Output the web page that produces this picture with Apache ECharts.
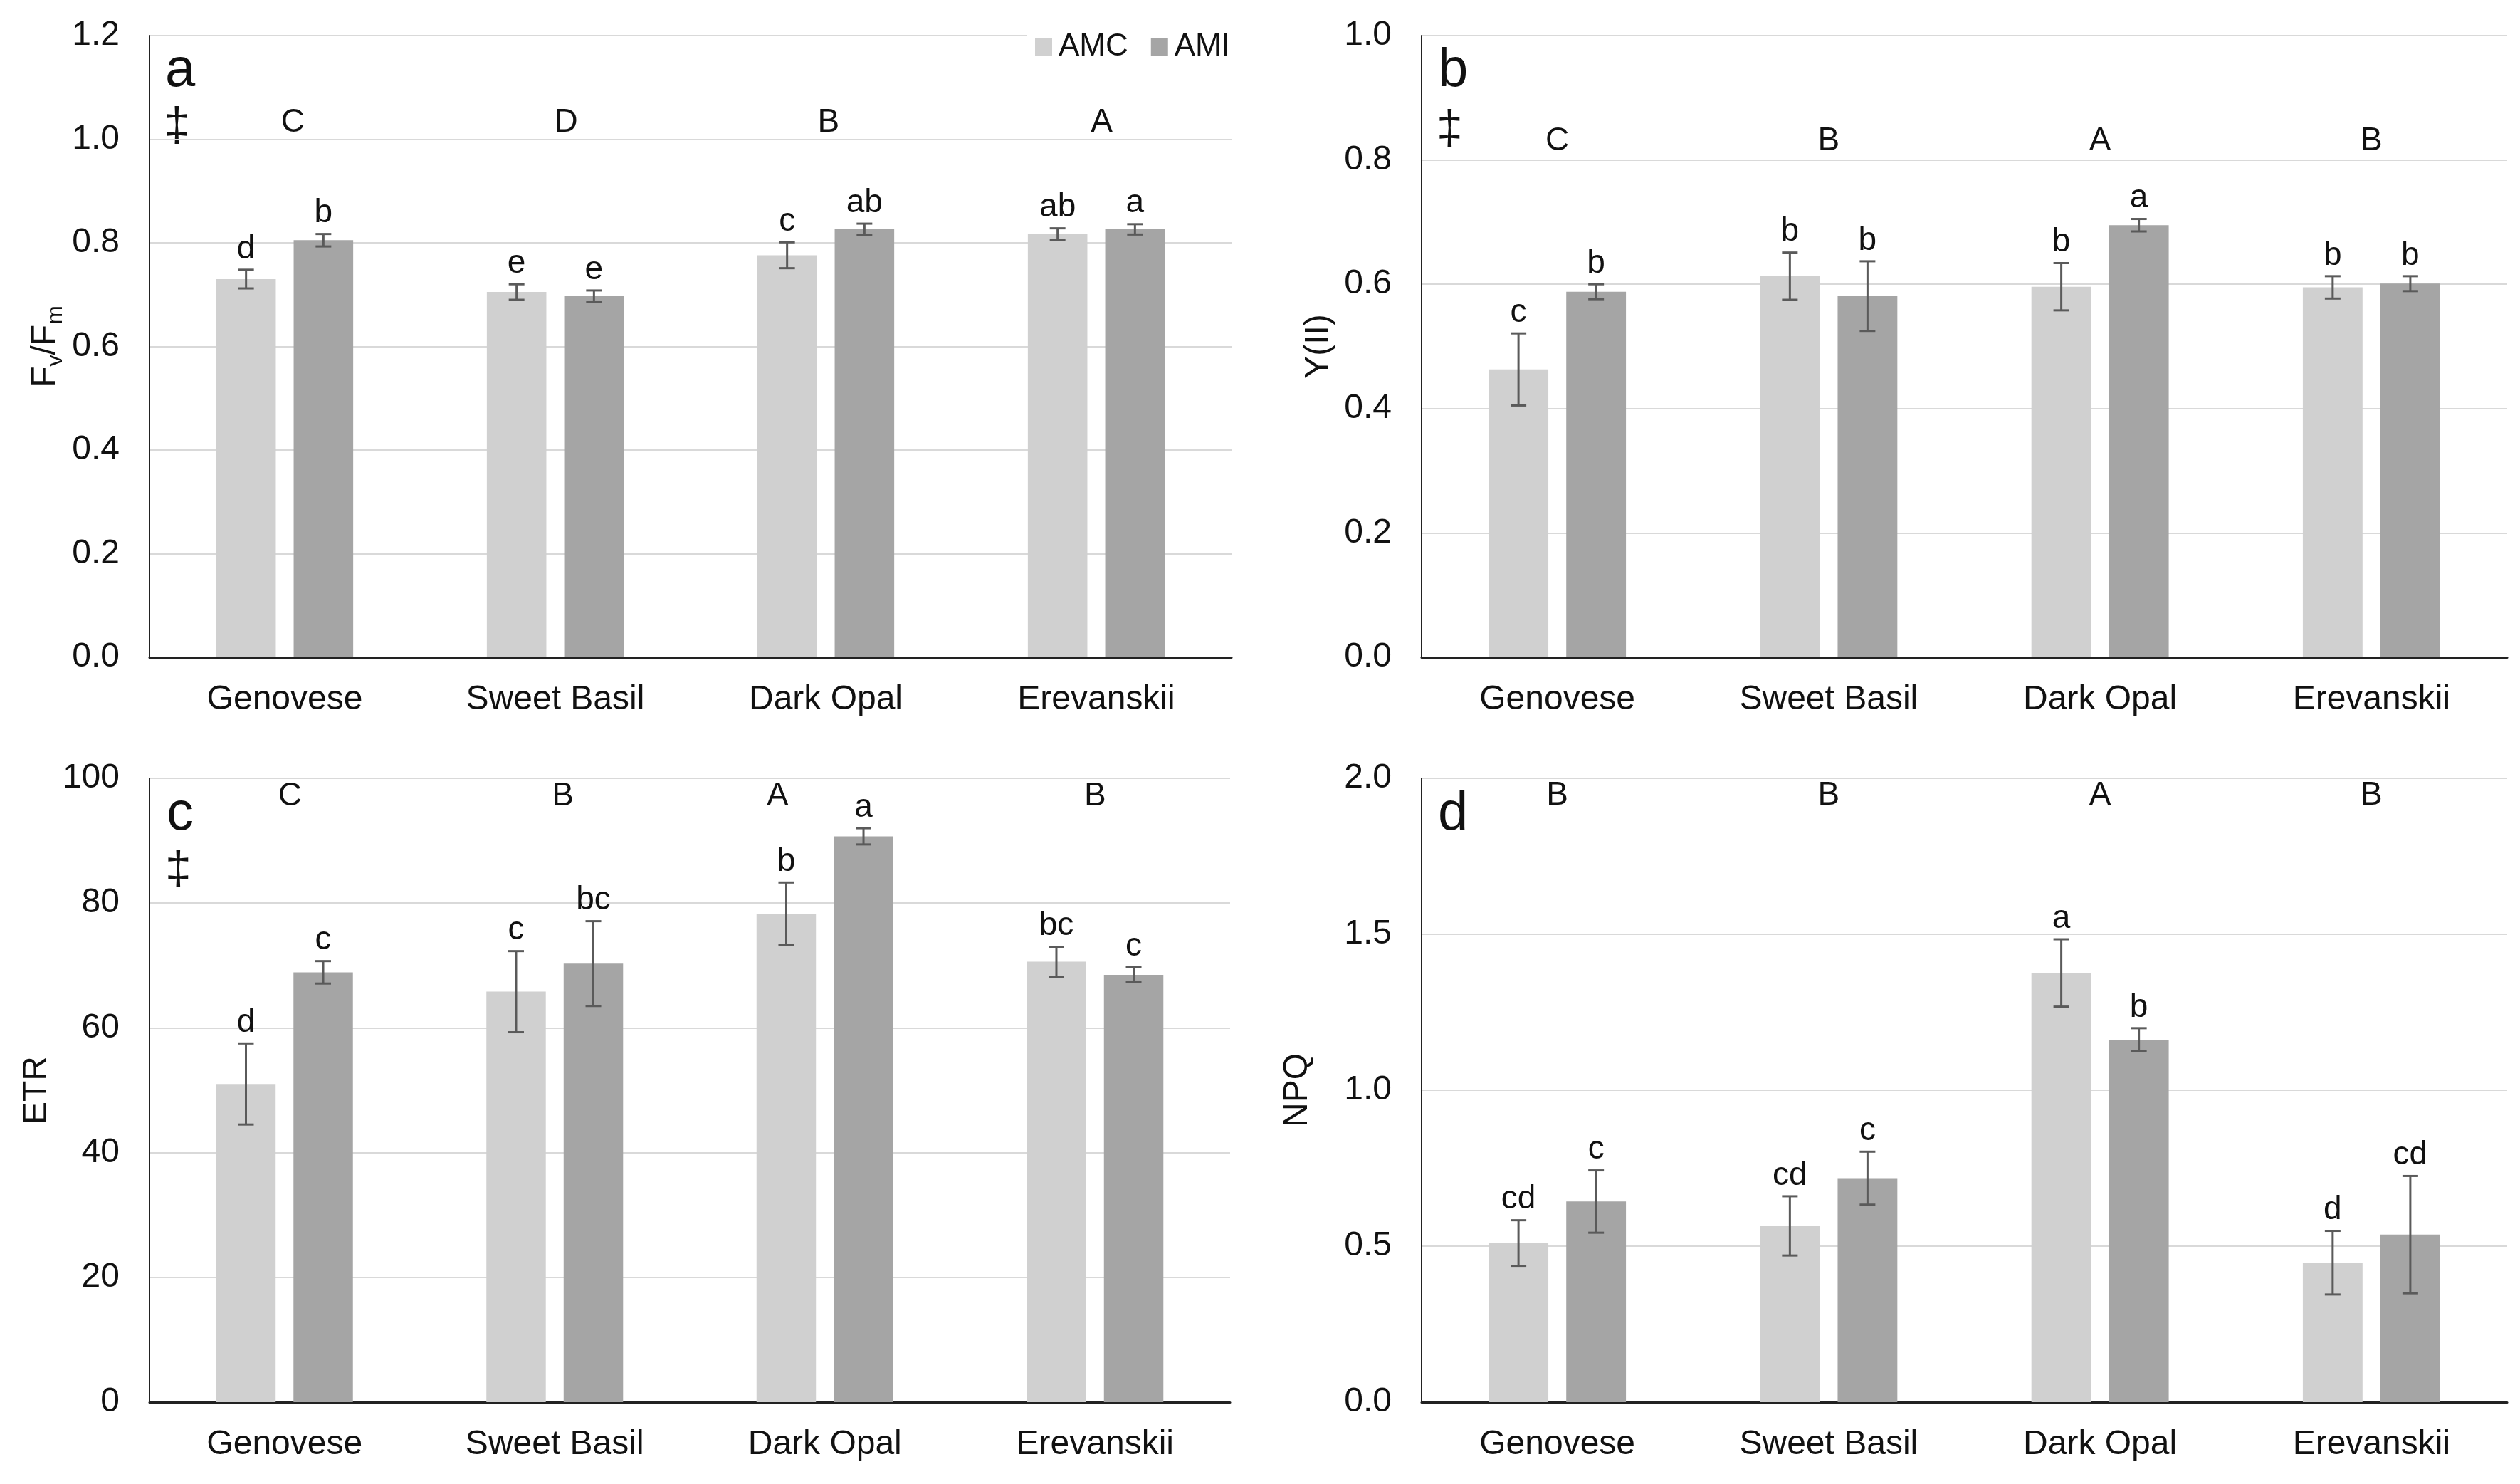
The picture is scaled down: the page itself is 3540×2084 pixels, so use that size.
<!DOCTYPE html>
<html>
<head>
<meta charset="utf-8">
<script src="https://cdn.jsdelivr.net/npm/echarts@6/dist/echarts.min.js"></script>
<style>
html,body{margin:0;padding:0;background:#fff;}
#chart{width:3540px;height:2084px;}
</style>
</head>
<body>
<div id="chart"></div>
<script>
// ---------- DATA ----------
const categories = ['Genovese', 'Sweet Basil', 'Dark Opal', 'Erevanskii'];
const seriesNames = ['AMC', 'AMI'];

// Panel a: Fv/Fm
const fvfmAMC = [0.730, 0.705, 0.776, 0.817];
const fvfmAMCErr = [0.018, 0.015, 0.025, 0.011];
const fvfmAMI = [0.805, 0.697, 0.826, 0.826];
const fvfmAMIErr = [0.012, 0.011, 0.011, 0.010];
const fvfmAMCLetters = ['d', 'e', 'c', 'ab'];
const fvfmAMILetters = ['b', 'e', 'ab', 'a'];
const fvfmGroupLetters = ['C', 'D', 'B', 'A'];

// Panel b: Y(II)
const yiiAMC = [0.463, 0.613, 0.596, 0.595];
const yiiAMCErr = [0.058, 0.038, 0.038, 0.018];
const yiiAMI = [0.588, 0.581, 0.695, 0.601];
const yiiAMIErr = [0.012, 0.056, 0.010, 0.012];
const yiiAMCLetters = ['c', 'b', 'b', 'b'];
const yiiAMILetters = ['b', 'b', 'a', 'b'];
const yiiGroupLetters = ['C', 'B', 'A', 'B'];

// Panel c: ETR
const etrAMC = [51.0, 65.8, 78.3, 70.6];
const etrAMCErr = [6.5, 6.5, 5.0, 2.4];
const etrAMI = [68.9, 70.3, 90.7, 68.5];
const etrAMIErr = [1.8, 6.8, 1.3, 1.2];
const etrAMCLetters = ['d', 'c', 'b', 'bc'];
const etrAMILetters = ['c', 'bc', 'a', 'c'];
const etrGroupLetters = ['C', 'B', 'A', 'B'];

// Panel d: NPQ
const npqAMC = [0.510, 0.565, 1.376, 0.447];
const npqAMCErr = [0.073, 0.095, 0.108, 0.102];
const npqAMI = [0.643, 0.718, 1.162, 0.537];
const npqAMIErr = [0.100, 0.085, 0.037, 0.188];
const npqAMCLetters = ['cd', 'cd', 'a', 'd'];
const npqAMILetters = ['c', 'c', 'b', 'cd'];
const npqGroupLetters = ['B', 'B', 'A', 'B'];

// ---------- STYLE / LAYOUT ----------
const FONT = '"Liberation Sans", Arial, sans-serif';
const C_AMC = '#d0d0d0';
const C_AMI = '#a5a5a5';
const ERR_COLOR = '#5a5a5a';
const BAR_OFFSET = 0.143; // fraction of category band (barWidth 22%, barGap 30%)

const panels = [
  {grid: {left: 210, top: 50, width: 1520, height: 873},
   yMin: 0, yMax: 1.2, yInt: 0.2, dec: 1,
   name: '{n|F}{s|v}{n|/F}{s|m}', nameGap: 116,
   amc: fvfmAMC, amcErr: fvfmAMCErr, ami: fvfmAMI, amiErr: fvfmAMIErr,
   amcL: fvfmAMCLetters, amiL: fvfmAMILetters, grp: fvfmGroupLetters,
   grpY: 1.032, grpShift: [0.03, 0.04, 0.01, 0.02]},
  {grid: {left: 1997, top: 50, width: 1525, height: 873},
   yMin: 0, yMax: 1.0, yInt: 0.2, dec: 1,
   name: 'Y(II)', nameGap: 120,
   amc: yiiAMC, amcErr: yiiAMCErr, ami: yiiAMI, amiErr: yiiAMIErr,
   amcL: yiiAMCLetters, amiL: yiiAMILetters, grp: yiiGroupLetters,
   grpY: 0.830, grpShift: [0.0, 0.0, 0.0, 0.0]},
  {grid: {left: 210, top: 1093, width: 1518, height: 876},
   yMin: 0, yMax: 100, yInt: 20, dec: 0,
   name: 'ETR', nameGap: 134,
   amc: etrAMC, amcErr: etrAMCErr, ami: etrAMI, amiErr: etrAMIErr,
   amcL: etrAMCLetters, amiL: etrAMILetters, grp: etrGroupLetters,
   grpY: 97.1, grpShift: [0.02, 0.03, -0.175, 0.0]},
  {grid: {left: 1997, top: 1093, width: 1525, height: 876},
   yMin: 0, yMax: 2.0, yInt: 0.5, dec: 1,
   name: 'NPQ', nameGap: 150,
   amc: npqAMC, amcErr: npqAMCErr, ami: npqAMI, amiErr: npqAMIErr,
   amcL: npqAMCLetters, amiL: npqAMILetters, grp: npqGroupLetters,
   grpY: 1.945, grpShift: [0.0, 0.0, 0.0, 0.0]}
];

function errRender(vals, errs, letters, offset) {
  return function (params, api) {
    const i = params.dataIndex;
    const v = vals[i], e = errs[i];
    const band = api.size([1, 0])[0];
    const cx = api.coord([i, v])[0] + offset * band;
    const yTop = api.coord([i, v + e])[1];
    const yBot = api.coord([i, v - e])[1];
    const cap = 11;
    const st = {stroke: ERR_COLOR, lineWidth: 3};
    return {type: 'group', children: [
      {type: 'line', shape: {x1: cx, y1: yTop, x2: cx, y2: yBot}, style: st},
      {type: 'line', shape: {x1: cx - cap, y1: yTop, x2: cx + cap, y2: yTop}, style: st},
      {type: 'line', shape: {x1: cx - cap, y1: yBot, x2: cx + cap, y2: yBot}, style: st},
      {type: 'text', style: {text: letters[i], x: cx, y: yTop - 6, align: 'center', verticalAlign: 'bottom',
        fontSize: 46, fontFamily: FONT, fill: '#111'}}
    ]};
  };
}

function grpRender(letters, shifts) {
  return function (params, api) {
    const i = params.dataIndex;
    const band = api.size([1, 0])[0];
    const p = api.coord([i, api.value(1)]);
    return {type: 'text', style: {text: letters[i], x: p[0] + shifts[i] * band, y: p[1], align: 'center',
      verticalAlign: 'middle', fontSize: 46, fontFamily: FONT, fill: '#111'}};
  };
}

const grids = [], xAxes = [], yAxes = [], series = [];
panels.forEach((p, k) => {
  grids.push(Object.assign({containLabel: false}, p.grid));
  xAxes.push({type: 'category', gridIndex: k, data: categories,
    axisLine: {lineStyle: {color: '#222', width: 3}}, axisTick: {show: false},
    axisLabel: {fontSize: 48, fontFamily: FONT, color: '#111', margin: 36},
    splitLine: {show: false}});
  yAxes.push({type: 'value', gridIndex: k, min: p.yMin, max: p.yMax, interval: p.yInt,
    axisLine: {show: true, lineStyle: {color: '#222', width: 2}}, axisTick: {show: false},
    axisLabel: {fontSize: 48, fontFamily: FONT, color: '#111', margin: 42,
      formatter: v => v.toFixed(p.dec)},
    splitLine: {lineStyle: {color: '#d9d9d9', width: 2}},
    name: p.name, nameLocation: 'middle', nameGap: p.nameGap, nameRotate: 90,
    nameTextStyle: {fontSize: 48, fontFamily: FONT, color: '#111',
      rich: {n: {fontSize: 48, fontFamily: FONT, color: '#111', lineHeight: 60},
             s: {fontSize: 32, fontFamily: FONT, color: '#111', lineHeight: 34, verticalAlign: 'bottom'}}}});
  series.push({name: 'AMC', type: 'bar', xAxisIndex: k, yAxisIndex: k, data: p.amc,
    barWidth: '22%', barGap: '30%', itemStyle: {color: C_AMC}, silent: true});
  series.push({name: 'AMI', type: 'bar', xAxisIndex: k, yAxisIndex: k, data: p.ami,
    barWidth: '22%', barGap: '30%', itemStyle: {color: C_AMI}, silent: true});
  series.push({type: 'custom', xAxisIndex: k, yAxisIndex: k, z: 5, silent: true,
    data: p.amc.map((v, i) => [i, v]), renderItem: errRender(p.amc, p.amcErr, p.amcL, -BAR_OFFSET)});
  series.push({type: 'custom', xAxisIndex: k, yAxisIndex: k, z: 5, silent: true,
    data: p.ami.map((v, i) => [i, v]), renderItem: errRender(p.ami, p.amiErr, p.amiL, BAR_OFFSET)});
  series.push({type: 'custom', xAxisIndex: k, yAxisIndex: k, z: 5, silent: true,
    data: p.grp.map((g, i) => [i, p.grpY]), renderItem: grpRender(p.grp, p.grpShift)});
});

const labelFont = {fontSize: 76, fontFamily: FONT, fill: '#111'};
const daggerFont = {fontSize: 66, fontFamily: FONT, fill: '#111'};
const graphic = [
  {type: 'text', left: 232, top: 62, style: Object.assign({text: 'a'}, labelFont)},
  {type: 'text', left: 230, top: 146, style: Object.assign({text: '‡'}, daggerFont)},
  {type: 'text', left: 2020, top: 62, style: Object.assign({text: 'b'}, labelFont)},
  {type: 'text', left: 2018, top: 150, style: Object.assign({text: '‡'}, daggerFont)},
  {type: 'text', left: 234, top: 1106, style: Object.assign({text: 'c'}, labelFont)},
  {type: 'text', left: 232, top: 1190, style: Object.assign({text: '‡'}, daggerFont)},
  {type: 'text', left: 2020, top: 1106, style: Object.assign({text: 'd'}, labelFont)}
];

const chart = echarts.init(document.getElementById('chart'), null, {renderer: 'canvas'});
chart.setOption({
  animation: false,
  backgroundColor: '#fff',
  legend: {data: seriesNames, right: 1808, top: 38, icon: 'rect', itemWidth: 24, itemHeight: 24,
    itemGap: 32, backgroundColor: '#fff', padding: [6, 4, 6, 12],
    textStyle: {fontSize: 44, fontFamily: FONT, color: '#111', padding: [0, 0, 0, 4]}},
  grid: grids, xAxis: xAxes, yAxis: yAxes, series: series, graphic: graphic
});
</script>
</body>
</html>
